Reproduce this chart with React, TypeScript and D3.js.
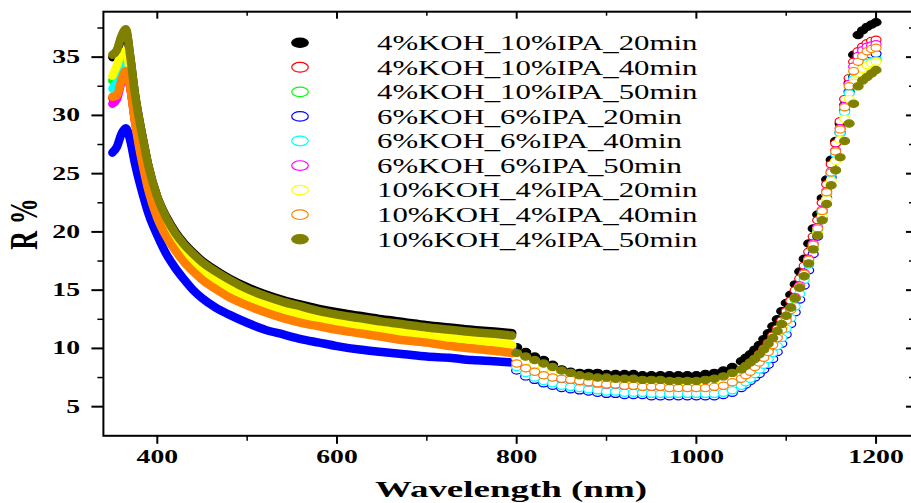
import React from 'react';
import * as d3 from 'd3';

// wavelength grids (nm): UV-Vis detector part and NIR part
const visNm = [350, 355, 360, 365, 370, 375, 380, 385, 390, 400, 410, 420, 430, 440, 450, 465, 480, 500, 520, 540, 560, 580, 600, 625, 650, 675, 700, 725, 750, 775, 795];
const nirNm = [800, 810, 820, 830, 840, 850, 860, 870, 880, 890, 900, 910, 920, 930, 940, 950, 960, 970, 980, 990, 1000, 1010, 1020, 1030, 1040, 1050,
  1055, 1060, 1065, 1070, 1075, 1080, 1085, 1090, 1095, 1100, 1105, 1110, 1115, 1120, 1125, 1130, 1135, 1140, 1145, 1150, 1155, 1160, 1165, 1170, 1175, 1180, 1185, 1190, 1195, 1200];

const seriesNames = [
  '4%KOH_10%IPA_20min', '4%KOH_10%IPA_40min', '4%KOH_10%IPA_50min',
  '6%KOH_6%IPA_20min', '6%KOH_6%IPA_40min', '6%KOH_6%IPA_50min',
  '10%KOH_4%IPA_20min', '10%KOH_4%IPA_40min', '10%KOH_4%IPA_50min',
];
const seriesColors = ['#000000', '#ff0000', '#00ff00', '#0000ff', '#00ffff', '#ff00ff', '#ffff00', '#ff8000', '#808000'];
const seriesFilled = [true, false, false, false, false, false, false, false, true];

// R % values
const k4i10m20Vis = [35.0, 35.5, 36.6, 37.2, 34.9, 31.9, 29.6, 27.6, 25.7,
  23.0, 21.3, 20.0, 19.0, 18.2, 17.5, 16.7, 16.0, 15.25, 14.65, 14.15, 13.75, 13.4, 13.1, 12.8, 12.5, 12.25, 12.0, 11.8, 11.6, 11.45, 11.3];
const k4i10m20Nir = [10.1, 9.7, 9.3, 9.0, 8.6, 8.2, 8.0, 7.9, 7.9, 7.9, 7.8, 7.8, 7.8, 7.8, 7.7, 7.7, 7.7, 7.7, 7.7, 7.7, 7.7, 7.8, 7.9, 8.1, 8.4, 8.9,
  9.2, 9.5, 9.9, 10.3, 10.8, 11.3, 11.9, 12.5, 13.2, 13.9, 14.6, 15.5, 16.6, 17.7, 19.0, 20.3, 21.5, 22.9, 24.5, 26.2, 27.8, 29.3, 30.9, 32.8, 35.2, 36.9, 37.3, 37.6, 37.8, 38.0];

const k4i10m40Vis = [31.5, 31.8, 33.1, 33.9, 32.4, 29.6, 27.3, 25.4, 23.7,
  21.3, 19.7, 18.5, 17.5, 16.7, 16.0, 15.2, 14.5, 13.8, 13.2, 12.7, 12.3, 12.0, 11.7, 11.4, 11.1, 10.8, 10.6, 10.3, 10.1, 9.9, 9.7];
const k4i10m40Nir = [9.3, 9.0, 8.6, 8.3, 8.0, 7.7, 7.5, 7.4, 7.3, 7.2, 7.1, 7.1, 7.0, 7.0, 7.0, 6.9, 6.9, 6.9, 6.9, 6.9, 6.9, 7.0, 7.1, 7.3, 7.6, 8.0,
  8.3, 8.7, 9.1, 9.5, 10.0, 10.5, 11.1, 11.7, 12.4, 13.2, 14.1, 15.0, 16.0, 17.1, 18.3, 19.6, 21.0, 22.5, 24.1, 25.8, 27.6, 29.5, 31.4, 33.2, 34.6, 35.5, 35.9, 36.2, 36.4, 36.5];

const k4i10m50Vis = [33.0, 34.0, 35.0, 35.2, 33.2, 30.4, 28.1, 26.1, 24.4,
  21.9, 20.2, 18.9, 17.9, 17.1, 16.5, 15.7, 15.0, 14.3, 13.7, 13.2, 12.8, 12.45, 12.15, 11.8, 11.5, 11.25, 11.0, 10.8, 10.6, 10.4, 10.2];
const k4i10m50Nir = [8.9, 8.5, 8.2, 7.9, 7.6, 7.4, 7.3, 7.2, 7.1, 7.0, 6.9, 6.9, 6.8, 6.8, 6.8, 6.7, 6.7, 6.7, 6.7, 6.7, 6.7, 6.7, 6.8, 7.0, 7.2, 7.6,
  7.9, 8.2, 8.6, 9.0, 9.4, 9.9, 10.4, 11.0, 11.7, 12.5, 13.3, 14.2, 15.2, 16.3, 17.5, 18.8, 20.2, 21.7, 23.3, 25.0, 26.8, 28.6, 30.4, 32.1, 33.4, 34.1, 34.5, 34.7, 34.8, 34.9];

const k6i6m20Vis = [26.8, 27.3, 28.4, 28.9, 27.8, 25.9, 24.3, 22.9, 21.6,
  19.7, 18.1, 16.9, 15.9, 15.0, 14.3, 13.5, 12.9, 12.2, 11.6, 11.2, 10.8, 10.5, 10.2, 9.9, 9.7, 9.5, 9.3, 9.2, 9.0, 8.9, 8.8];
const k6i6m20Nir = [8.1, 7.6, 7.3, 7.0, 6.8, 6.6, 6.5, 6.4, 6.3, 6.2, 6.1, 6.1, 6.0, 6.0, 6.0, 5.9, 5.9, 5.9, 5.9, 5.9, 5.9, 5.9, 5.9, 6.0, 6.2, 6.6,
  6.9, 7.2, 7.5, 7.8, 8.2, 8.6, 9.1, 9.7, 10.4, 11.2, 12.1, 13.1, 14.2, 15.4, 16.7, 18.1, 19.6, 21.2, 22.9, 24.7, 26.6, 28.5, 30.4, 32.0, 33.3, 34.1, 34.6, 35.0, 35.2, 35.3];

const k6i6m40Vis = [32.3, 32.9, 34.2, 34.5, 32.8, 30.0, 27.7, 25.7, 24.0,
  21.6, 19.95, 18.75, 17.75, 16.95, 16.25, 15.45, 14.75, 14.05, 13.45, 12.95, 12.55, 12.25, 11.95, 11.65, 11.35, 11.05, 10.85, 10.55, 10.35, 10.15, 9.95];
const k6i6m40Nir = [8.4, 7.9, 7.5, 7.2, 7.0, 6.8, 6.7, 6.6, 6.5, 6.4, 6.3, 6.3, 6.2, 6.2, 6.2, 6.1, 6.1, 6.1, 6.1, 6.1, 6.1, 6.1, 6.1, 6.2, 6.4, 6.8,
  7.1, 7.4, 7.8, 8.2, 8.6, 9.1, 9.6, 10.2, 10.9, 11.7, 12.6, 13.6, 14.7, 15.9, 17.2, 18.6, 20.1, 21.7, 23.3, 25.0, 26.7, 28.5, 30.3, 31.9, 33.1, 33.8, 34.2, 34.5, 34.6, 34.7];

const k6i6m50Vis = [31.0, 31.4, 32.8, 33.7, 32.4, 29.7, 27.4, 25.5, 23.8,
  21.4, 19.8, 18.6, 17.6, 16.8, 16.1, 15.3, 14.6, 13.9, 13.3, 12.8, 12.4, 12.1, 11.8, 11.5, 11.2, 10.9, 10.7, 10.4, 10.2, 10.0, 9.8];
const k6i6m50Nir = [8.8, 8.4, 8.1, 7.8, 7.6, 7.4, 7.3, 7.2, 7.1, 7.0, 6.9, 6.9, 6.8, 6.8, 6.8, 6.7, 6.7, 6.7, 6.7, 6.7, 6.7, 6.7, 6.8, 6.9, 7.2, 7.5,
  7.8, 8.2, 8.6, 9.0, 9.4, 9.9, 10.5, 11.1, 11.8, 12.6, 13.5, 14.4, 15.4, 16.5, 17.7, 19.0, 20.4, 21.9, 23.5, 25.2, 27.0, 28.9, 30.8, 32.7, 34.2, 35.1, 35.6, 35.9, 36.0, 36.1];

const k10i4m20Vis = [33.4, 34.3, 35.3, 35.5, 33.4, 30.5, 28.2, 26.2, 24.5,
  22.0, 20.3, 19.0, 18.0, 17.2, 16.6, 15.8, 15.1, 14.4, 13.8, 13.3, 12.9, 12.55, 12.25, 11.9, 11.6, 11.35, 11.1, 10.9, 10.7, 10.5, 10.3];
const k10i4m20Nir = [9.2, 8.9, 8.6, 8.3, 8.0, 7.8, 7.6, 7.5, 7.4, 7.3, 7.2, 7.1, 7.1, 7.0, 7.0, 7.0, 7.0, 6.9, 6.9, 6.9, 6.9, 6.9, 7.0, 7.2, 7.4, 7.8,
  8.1, 8.4, 8.8, 9.2, 9.6, 10.1, 10.6, 11.2, 11.9, 12.6, 13.4, 14.3, 15.3, 16.3, 17.4, 18.6, 19.9, 21.3, 22.8, 24.4, 26.1, 27.9, 29.7, 31.4, 32.8, 33.6, 34.0, 34.3, 34.5, 34.6];

const k10i4m40Vis = [31.6, 31.7, 33.0, 33.8, 32.3, 29.5, 27.2, 25.3, 23.6,
  21.2, 19.6, 18.4, 17.4, 16.6, 15.9, 15.1, 14.4, 13.7, 13.1, 12.6, 12.2, 11.9, 11.6, 11.3, 11.0, 10.7, 10.5, 10.2, 10.0, 9.8, 9.6];
const k10i4m40Nir = [8.7, 8.3, 8.0, 7.7, 7.5, 7.4, 7.3, 7.2, 7.1, 7.0, 6.9, 6.9, 6.8, 6.8, 6.7, 6.7, 6.7, 6.6, 6.6, 6.6, 6.6, 6.6, 6.7, 6.8, 7.1, 7.4,
  7.7, 8.0, 8.4, 8.8, 9.2, 9.7, 10.3, 10.9, 11.6, 12.4, 13.3, 14.3, 15.3, 16.4, 17.6, 18.9, 20.3, 21.8, 23.4, 25.1, 26.9, 28.8, 30.7, 32.5, 33.8, 34.6, 35.1, 35.5, 35.7, 35.8];

const k10i4m50Vis = [35.2, 35.6, 36.8, 37.4, 35.0, 31.9, 29.6, 27.6, 25.7,
  23.0, 21.2, 19.9, 18.9, 18.1, 17.4, 16.6, 15.9, 15.1, 14.5, 14.0, 13.6, 13.2, 12.9, 12.6, 12.3, 12.05, 11.8, 11.6, 11.4, 11.25, 11.1];
const k10i4m50Nir = [9.6, 9.3, 9.0, 8.7, 8.4, 8.1, 7.9, 7.7, 7.6, 7.5, 7.5, 7.4, 7.4, 7.4, 7.3, 7.3, 7.3, 7.2, 7.2, 7.2, 7.2, 7.3, 7.4, 7.6, 7.9, 8.2,
  8.5, 8.8, 9.1, 9.5, 9.9, 10.4, 10.9, 11.5, 12.1, 12.8, 13.5, 14.3, 15.2, 16.2, 17.3, 18.5, 19.7, 21.0, 22.4, 24.0, 25.3, 26.4, 27.8, 29.3, 31.0, 32.5, 33.0, 33.3, 33.6, 33.9];

const visValues = [k4i10m20Vis, k4i10m40Vis, k4i10m50Vis, k6i6m20Vis, k6i6m40Vis, k6i6m50Vis, k10i4m20Vis, k10i4m40Vis, k10i4m50Vis];
const nirValues = [k4i10m20Nir, k4i10m40Nir, k4i10m50Nir, k6i6m20Nir, k6i6m40Nir, k6i6m50Nir, k10i4m20Nir, k10i4m40Nir, k10i4m50Nir];

const xMajor = [400, 600, 800, 1000, 1200];
const xMinor = [500, 700, 900, 1100];
const yMajor = [5, 10, 15, 20, 25, 30, 35];
const yMinor = [7.5, 12.5, 17.5, 22.5, 27.5, 32.5, 37.5];

const SX = 1.54; // source picture is stretched sideways
const FONT = '"Liberation Serif", "Times New Roman", serif';

export default function App() {
  const x = d3.scaleLinear().domain([340, 1240]).range([103.4, 912]);
  const y = d3.scaleLinear().domain([2.5, 38.9]).range([435.8, 11.7]);
  const line = d3.line<[number, number]>()
    .x(d => x(d[0]))
    .y(d => y(d[1]))
    .curve(d3.curveMonotoneX);

  const [x0, x1] = x.range();
  const [yb, yt] = y.range();
  const legX = 300, legTextX = 377, legY0 = 42.7, legStep = 24.57;

  return (
    <svg width={911} height={503} style={{ position: 'absolute', left: 0, top: 0, background: '#fff' }}
      fontFamily={FONT}>
      {seriesNames.map((name, i) => {
        const c = seriesColors[i];
        const vis = visNm.map((n, j) => [n, visValues[i][j]] as [number, number]);
        return (
          <g key={name}>
            <path d={line(vis) || ''} fill="none" stroke={c} strokeWidth={8.5}
              strokeLinecap="round" strokeLinejoin="round" />
            {nirNm.map((n, j) => (
              <ellipse key={n} cx={x(n)} cy={y(nirValues[i][j])} rx={5} ry={3.6}
                fill={seriesFilled[i] ? c : '#fff'} stroke={c} strokeWidth={1.2} />
            ))}
          </g>
        );
      })}

      {/* frame */}
      <rect x={x0} y={yt} width={x1 - x0} height={yb - yt} fill="none" stroke="#000" strokeWidth={2} />

      {/* bottom + top ticks */}
      {xMajor.map(v => (
        <g key={'xM' + v}>
          <line x1={x(v)} x2={x(v)} y1={yb} y2={yb + 8} stroke="#000" strokeWidth={2} />
          <line x1={x(v)} x2={x(v)} y1={yt} y2={yt + 7} stroke="#000" strokeWidth={2} />
          <text transform={`translate(${x(v)},463) scale(${SX},1)`} textAnchor="middle"
            fontSize={18} fontWeight="bold">{v}</text>
        </g>
      ))}
      {xMinor.map(v => (
        <g key={'xm' + v}>
          <line x1={x(v)} x2={x(v)} y1={yb} y2={yb + 5} stroke="#000" strokeWidth={1.5} />
          <line x1={x(v)} x2={x(v)} y1={yt} y2={yt + 4} stroke="#000" strokeWidth={1.5} />
        </g>
      ))}

      {/* left + right ticks */}
      {yMajor.map(v => (
        <g key={'yM' + v}>
          <line x1={x0 - 12} x2={x0} y1={y(v)} y2={y(v)} stroke="#000" strokeWidth={2} />
          <line x1={x1 - 6} x2={x1} y1={y(v)} y2={y(v)} stroke="#000" strokeWidth={2} />
          <text transform={`translate(80,${y(v) + 6}) scale(${SX},1)`} textAnchor="end"
            fontSize={18} fontWeight="bold">{v}</text>
        </g>
      ))}
      {yMinor.map(v => (
        <g key={'ym' + v}>
          <line x1={x0 - 6} x2={x0} y1={y(v)} y2={y(v)} stroke="#000" strokeWidth={1.5} />
          <line x1={x1 - 3} x2={x1} y1={y(v)} y2={y(v)} stroke="#000" strokeWidth={1.5} />
        </g>
      ))}

      {/* axis titles */}
      <text transform={`translate(511,497) scale(${SX},1)`} textAnchor="middle"
        fontSize={24} fontWeight="bold">Wavelength (nm)</text>
      <text transform={`translate(37,224) scale(${SX},1) rotate(-90)`} textAnchor="middle"
        fontSize={26} fontWeight="bold">R %</text>

      {/* legend */}
      {seriesNames.map((name, i) => {
        const ly = legY0 + i * legStep;
        const c = seriesColors[i];
        return (
          <g key={'leg' + name}>
            <ellipse cx={legX} cy={ly} rx={8.3} ry={seriesFilled[i] ? 4.6 : 4.8}
              fill={seriesFilled[i] ? c : '#fff'} stroke={c} strokeWidth={1.2} />
            <text transform={`translate(${legTextX},${ly + 7.3}) scale(${SX},1)`}
              fontSize={20}>{name}</text>
          </g>
        );
      })}
    </svg>
  );
}
